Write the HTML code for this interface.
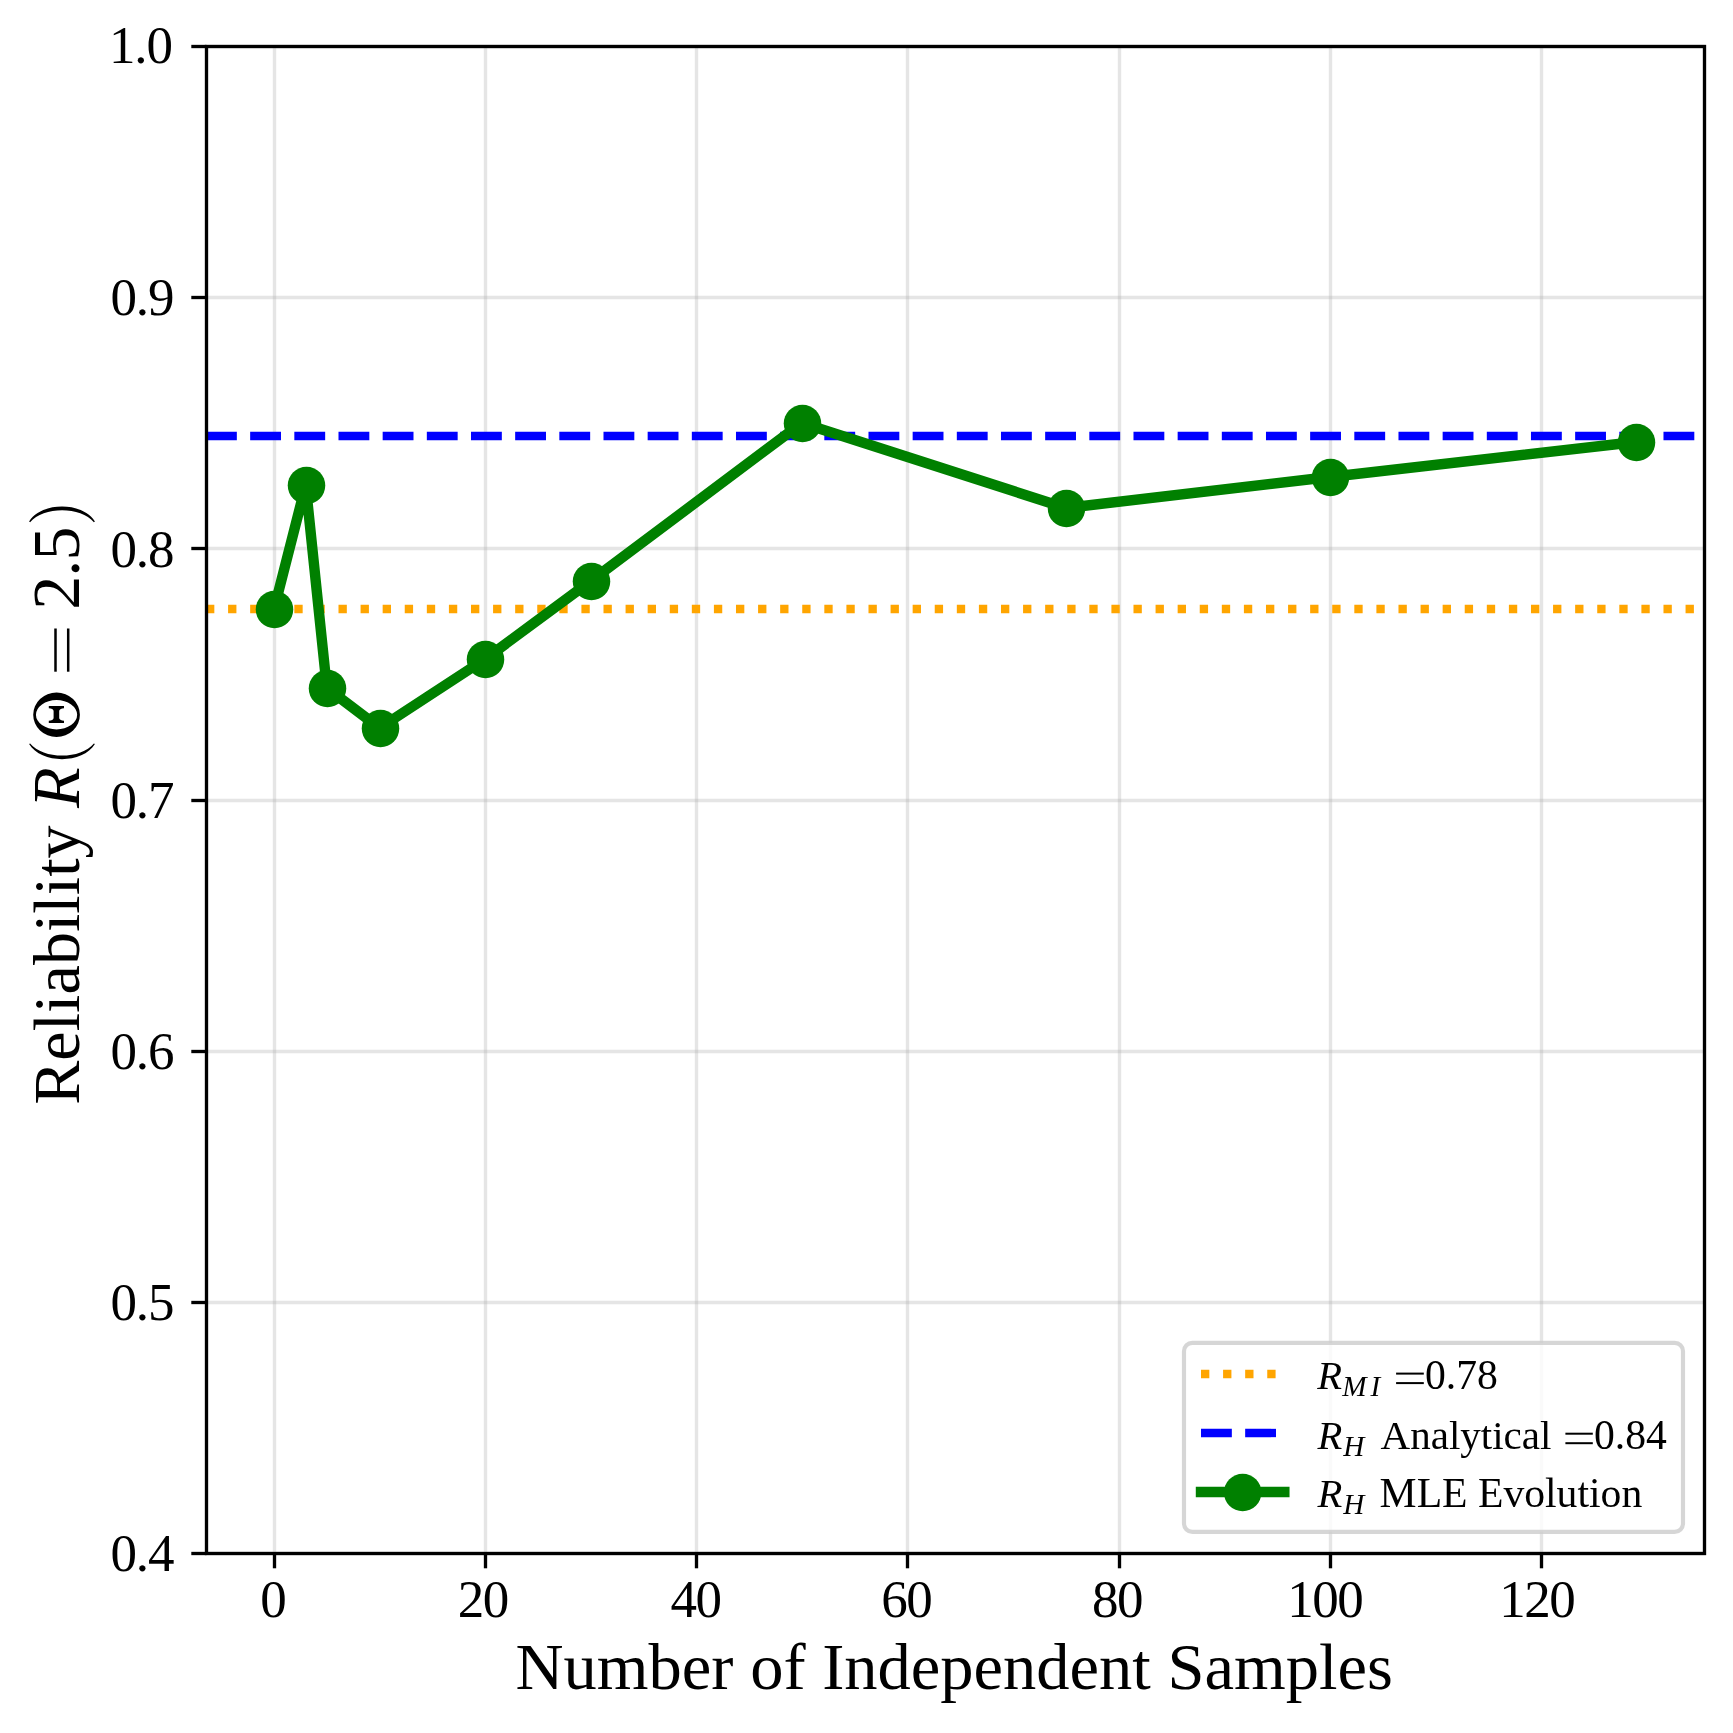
<!DOCTYPE html><html><head><meta charset="utf-8"><style>html,body{margin:0;padding:0;background:#fff;width:1733px;height:1733px;overflow:hidden}svg{display:block}text{font-family:"Liberation Serif",serif;fill:#000}</style></head><body>
<svg width="1733" height="1733" viewBox="0 0 1733 1733">
<rect x="0" y="0" width="1733" height="1733" fill="#fff"/>
<line x1="274.50" y1="46.5" x2="274.50" y2="1553.5" stroke="rgba(176,176,176,0.33)" stroke-width="3.333"/>
<line x1="485.50" y1="46.5" x2="485.50" y2="1553.5" stroke="rgba(176,176,176,0.33)" stroke-width="3.333"/>
<line x1="696.50" y1="46.5" x2="696.50" y2="1553.5" stroke="rgba(176,176,176,0.33)" stroke-width="3.333"/>
<line x1="907.50" y1="46.5" x2="907.50" y2="1553.5" stroke="rgba(176,176,176,0.33)" stroke-width="3.333"/>
<line x1="1119.50" y1="46.5" x2="1119.50" y2="1553.5" stroke="rgba(176,176,176,0.33)" stroke-width="3.333"/>
<line x1="1330.50" y1="46.5" x2="1330.50" y2="1553.5" stroke="rgba(176,176,176,0.33)" stroke-width="3.333"/>
<line x1="1541.50" y1="46.5" x2="1541.50" y2="1553.5" stroke="rgba(176,176,176,0.33)" stroke-width="3.333"/>
<line x1="206.5" y1="1553.50" x2="1704.5" y2="1553.50" stroke="rgba(176,176,176,0.33)" stroke-width="3.333"/>
<line x1="206.5" y1="1302.50" x2="1704.5" y2="1302.50" stroke="rgba(176,176,176,0.33)" stroke-width="3.333"/>
<line x1="206.5" y1="1051.50" x2="1704.5" y2="1051.50" stroke="rgba(176,176,176,0.33)" stroke-width="3.333"/>
<line x1="206.5" y1="800.50" x2="1704.5" y2="800.50" stroke="rgba(176,176,176,0.33)" stroke-width="3.333"/>
<line x1="206.5" y1="548.50" x2="1704.5" y2="548.50" stroke="rgba(176,176,176,0.33)" stroke-width="3.333"/>
<line x1="206.5" y1="297.50" x2="1704.5" y2="297.50" stroke="rgba(176,176,176,0.33)" stroke-width="3.333"/>
<line x1="206.5" y1="46.50" x2="1704.5" y2="46.50" stroke="rgba(176,176,176,0.33)" stroke-width="3.333"/>
<line x1="206" y1="609.0" x2="1704" y2="609.0" stroke="#ffa500" stroke-width="8.333" stroke-dasharray="8.333 13.75"/>
<line x1="206" y1="436.0" x2="1704" y2="436.0" stroke="#0000ff" stroke-width="8.333" stroke-dasharray="30.833 13.333"/>
<path d="M274.05 609.00 L305.72 485.00 L326.84 688.00 L379.62 728.00 L485.19 659.00 L590.76 581.00 L801.90 423.00 L1065.83 508.00 L1329.75 477.00 L1635.90 442.00" fill="none" stroke="#008000" stroke-width="10.417" stroke-linejoin="round" stroke-linecap="butt"/>
<circle cx="274.50" cy="609.50" r="18.75" fill="#008000"/>
<circle cx="306.50" cy="485.50" r="18.75" fill="#008000"/>
<circle cx="327.50" cy="688.50" r="18.75" fill="#008000"/>
<circle cx="380.50" cy="728.50" r="18.75" fill="#008000"/>
<circle cx="485.50" cy="659.50" r="18.75" fill="#008000"/>
<circle cx="591.50" cy="581.50" r="18.75" fill="#008000"/>
<circle cx="802.50" cy="423.50" r="18.75" fill="#008000"/>
<circle cx="1066.50" cy="508.50" r="18.75" fill="#008000"/>
<circle cx="1330.50" cy="477.50" r="18.75" fill="#008000"/>
<circle cx="1636.50" cy="442.50" r="18.75" fill="#008000"/>
<rect x="206.5" y="46.5" width="1498.0" height="1507.0" fill="none" stroke="#000" stroke-width="3.333" stroke-linejoin="miter"/>
<line x1="274.50" y1="1553.5" x2="274.50" y2="1568.3" stroke="#000" stroke-width="3.333"/>
<line x1="485.50" y1="1553.5" x2="485.50" y2="1568.3" stroke="#000" stroke-width="3.333"/>
<line x1="696.50" y1="1553.5" x2="696.50" y2="1568.3" stroke="#000" stroke-width="3.333"/>
<line x1="907.50" y1="1553.5" x2="907.50" y2="1568.3" stroke="#000" stroke-width="3.333"/>
<line x1="1119.50" y1="1553.5" x2="1119.50" y2="1568.3" stroke="#000" stroke-width="3.333"/>
<line x1="1330.50" y1="1553.5" x2="1330.50" y2="1568.3" stroke="#000" stroke-width="3.333"/>
<line x1="1541.50" y1="1553.5" x2="1541.50" y2="1568.3" stroke="#000" stroke-width="3.333"/>
<line x1="191.3" y1="1553.50" x2="206.5" y2="1553.50" stroke="#000" stroke-width="3.333"/>
<line x1="191.3" y1="1302.50" x2="206.5" y2="1302.50" stroke="#000" stroke-width="3.333"/>
<line x1="191.3" y1="1051.50" x2="206.5" y2="1051.50" stroke="#000" stroke-width="3.333"/>
<line x1="191.3" y1="800.50" x2="206.5" y2="800.50" stroke="#000" stroke-width="3.333"/>
<line x1="191.3" y1="548.50" x2="206.5" y2="548.50" stroke="#000" stroke-width="3.333"/>
<line x1="191.3" y1="297.50" x2="206.5" y2="297.50" stroke="#000" stroke-width="3.333"/>
<line x1="191.3" y1="46.50" x2="206.5" y2="46.50" stroke="#000" stroke-width="3.333"/>
<text x="260.23" y="1616.50" font-size="53.0">0</text>
<text x="457.80 482.80" y="1616.50" font-size="53.0">20</text>
<text x="670.40 695.40" y="1616.50" font-size="53.0">40</text>
<text x="881.15 906.15" y="1616.50" font-size="53.0">60</text>
<text x="1092.00 1117.00" y="1616.50" font-size="53.0">80</text>
<text x="1287.20 1312.20 1337.20" y="1616.50" font-size="53.0">100</text>
<text x="1499.37 1524.37 1549.37" y="1616.50" font-size="53.0">120</text>
<text x="110.45 135.82 147.95" y="1571.35" font-size="53.0">0.4</text>
<text x="110.45 135.82 147.95" y="1319.95" font-size="53.0">0.5</text>
<text x="110.45 135.82 147.95" y="1069.00" font-size="53.0">0.6</text>
<text x="110.45 135.82 147.95" y="817.90" font-size="53.0">0.7</text>
<text x="110.45 135.82 147.95" y="567.00" font-size="53.0">0.8</text>
<text x="110.45 135.82 147.95" y="314.85" font-size="53.0">0.9</text>
<text x="108.95 134.32 146.45" y="63.10" font-size="53.0">1.0</text>
<text x="954.2" y="1688.6" font-size="66.5" text-anchor="middle">Number of Independent Samples</text>
<g transform="translate(79,1103) rotate(-90)">
<text x="-1.8" y="0" font-size="66.2">Reliability</text>
<text x="295.1" y="0" font-size="66.667" font-style="italic">R</text>
<rect x="431.3" y="-24.75" width="43.2" height="2.5" fill="#000"/>
<rect x="431.3" y="-12.05" width="43.2" height="2.5" fill="#000"/>
<text x="493.3" y="0" font-size="68">2</text>
<text x="526.3" y="0" font-size="68">.</text>
<text x="542.5" y="0" font-size="68">5</text>
</g>
<path d="M29.1,744.1 C41.1,764.2 82.9,764.2 94.9,744.1 L93.9,743.5 C80.9,759.6 43.3,759.6 30.1,743.5 Z" fill="#000"/>
<path d="M29.1,521.6 C41.1,501.5 82.9,501.5 94.9,521.6 L93.9,522.2 C80.9,506.1 43.3,506.1 30.1,522.2 Z" fill="#000"/>
<path fill-rule="evenodd" d="M33.199999999999996,714.75 A23.35,22.25 0 1,0 79.9,714.75 A23.35,22.25 0 1,0 33.199999999999996,714.75 Z M35.949999999999996,714.75 A20.6,14.65 0 1,0 77.15,714.75 A20.6,14.65 0 1,0 35.949999999999996,714.75 Z" fill="#000"/>
<rect x="53.6" y="707.5" width="5.6" height="13.9" fill="#000"/>
<path d="M48.8,706 L64,706 L64,708.2 Q60,708.6 59.2,710.5 L53.6,710.5 Q53,708.6 48.8,708.2 Z" fill="#000"/>
<path d="M48.8,723 L64,723 L64,720.8 Q60,720.4 59.2,718.5 L53.6,718.5 Q53,720.4 48.8,720.8 Z" fill="#000"/>
<rect x="1184" y="1342.9" width="499" height="188.95" rx="8.333" ry="8.333" fill="rgba(255,255,255,0.8)" stroke="rgba(204,204,204,0.8)" stroke-width="4.167"/>
<line x1="1201" y1="1374" x2="1284.33" y2="1374" stroke="#ffa500" stroke-width="8.333" stroke-dasharray="8.333 13.75"/>
<line x1="1201" y1="1433" x2="1284.33" y2="1433" stroke="#0000ff" stroke-width="8.333" stroke-dasharray="30.833 13.333"/>
<line x1="1201" y1="1492" x2="1284.33" y2="1492" stroke="#008000" stroke-width="10.417" stroke-linecap="square"/>
<circle cx="1242.67" cy="1492.5" r="18.75" fill="#008000"/>
<g style="will-change:transform">
<text x="1317.2" y="1388.9" font-size="40.6" font-style="italic">R</text>
<text x="1342.3" y="1395.9" font-size="29.2" font-style="italic">M</text>
<text x="1370.6" y="1395.9" font-size="29.2" font-style="italic">I</text>
<rect x="1396.1" y="1372.6" width="27.7" height="2" fill="#000"/>
<rect x="1396.1" y="1382.1" width="27.7" height="2" fill="#000"/>
<text x="1425" y="1388.9" font-size="41.667">0.78</text>
<text x="1317.6" y="1449.0" font-size="40.6" font-style="italic">R</text>
<text x="1343.2" y="1456.0" font-size="29.2" font-style="italic">H</text>
<text x="1380.6" y="1449.0" font-size="41">Analytical</text>
<rect x="1565.4" y="1432.7" width="27.4" height="2" fill="#000"/>
<rect x="1565.4" y="1442.2" width="27.4" height="2" fill="#000"/>
<text x="1594" y="1449.0" font-size="41.667">0.84</text>
<text x="1317.6" y="1507.1" font-size="40.6" font-style="italic">R</text>
<text x="1343.2" y="1514.1" font-size="29.2" font-style="italic">H</text>
<text x="1379.6" y="1507.1" font-size="41.667">MLE Evolution</text>
</g>
</svg></body></html>
